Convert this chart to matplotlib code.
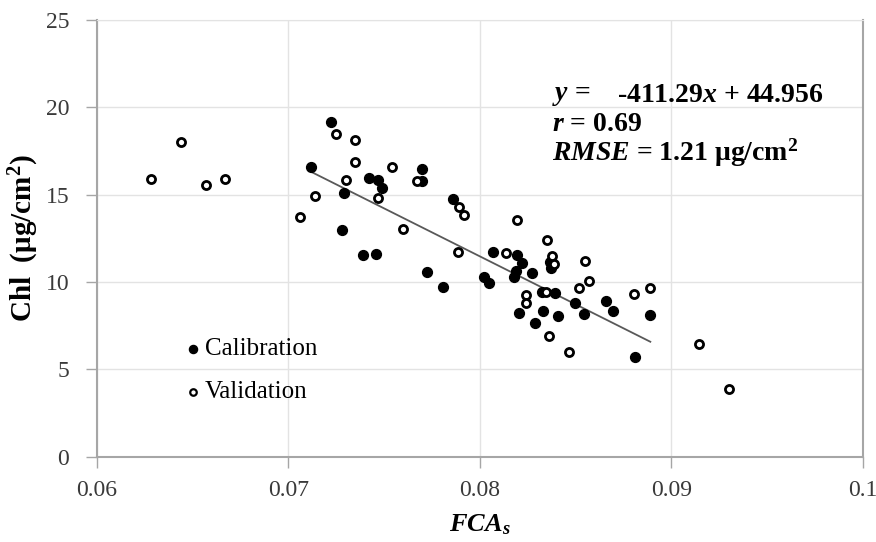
import numpy as np
import matplotlib
matplotlib.use('Agg')
import matplotlib.pyplot as plt

plt.rcParams['font.family'] = ['Liberation Serif', 'DejaVu Serif']
plt.rcParams['mathtext.fontset'] = 'custom'
plt.rcParams['mathtext.rm'] = 'Liberation Serif'
plt.rcParams['mathtext.it'] = 'Liberation Serif:italic'
plt.rcParams['mathtext.bf'] = 'Liberation Serif:bold'
plt.rcParams['mathtext.bfit'] = 'Liberation Serif:bold:italic'

# calibration (filled) points
cal_x = [0.0722, 0.0712, 0.0729, 0.0728, 0.0742, 0.07466, 0.07486, 0.07695, 0.0770,
         0.07857, 0.07389, 0.07458, 0.0807, 0.07726, 0.07808, 0.08021, 0.08047, 0.08196,
         0.0822, 0.08188, 0.08178, 0.0827, 0.08366, 0.0837, 0.08322, 0.0839, 0.08497,
         0.08658, 0.08695, 0.08886, 0.08205, 0.08327, 0.08407, 0.08543, 0.08289, 0.08811]
cal_y = [19.14, 16.6, 15.11, 13.0, 15.95, 15.82, 15.38, 16.45, 15.76,
         14.75, 11.56, 11.62, 11.72, 10.57, 9.71, 10.30, 9.94, 11.53,
         11.07, 10.65, 10.30, 10.51, 11.16, 10.82, 9.43, 9.37, 8.80,
         8.90, 8.32, 8.11, 8.24, 8.32, 8.05, 8.19, 7.67, 5.71]

# validation (open) points
val_x = [0.0644, 0.0628, 0.0657, 0.0667, 0.0725, 0.07346, 0.0735, 0.07542, 0.0730,
         0.0714, 0.0747, 0.0767, 0.0706, 0.07598, 0.07892, 0.07916, 0.07887, 0.08134,
         0.08196, 0.0835, 0.08377, 0.08388, 0.08548, 0.0857, 0.08517, 0.08345, 0.08804,
         0.08886, 0.0824, 0.0824, 0.08363, 0.08466, 0.09142, 0.09302]
val_y = [18.01, 15.9, 15.53, 15.9, 18.45, 18.15, 16.87, 16.6, 15.84,
         14.9, 14.83, 15.76, 13.7, 13.05, 14.31, 13.82, 11.70, 11.66,
         13.55, 12.42, 11.51, 11.01, 11.22, 10.03, 9.66, 9.43, 9.31,
         9.68, 9.24, 8.80, 6.91, 5.98, 6.47, 3.86]

# trend line as drawn
trend_x = [0.0712, 0.0889]
trend_y = [16.3, 6.58]

fig = plt.figure(figsize=(8.76, 5.42), dpi=100)
ax = fig.add_axes([0.1107, 0.1574, 0.8743, 0.8057])

ax.plot(trend_x, trend_y, color='#595959', lw=1.3, zorder=2)
ax.scatter(cal_x, cal_y, s=50, c='black', zorder=3)
ax.scatter(val_x, val_y, s=34, facecolors='white', edgecolors='black', linewidths=2, zorder=3)

ax.set_xlim(0.06, 0.1)
ax.set_ylim(0, 25)
ax.set_xticks([0.06, 0.07, 0.08, 0.09, 0.1])
ax.set_xticklabels(['0.06', '0.07', '0.08', '0.09', '0.1'])
ax.set_yticks([0, 5, 10, 15, 20, 25])
ax.grid(True, color='#e3e3e3', lw=1)
ax.set_axisbelow(True)
ax.tick_params(direction='out', length=8, width=1, color='#a6a6a6', labelsize=17,
               labelcolor='#3a3a3a')
ax.tick_params(axis='x', pad=9)
ax.tick_params(axis='y', pad=12)
for s in ['left', 'bottom', 'right']:
    ax.spines[s].set_color('#a6a6a6')
    ax.spines[s].set_linewidth(1.5)
ax.spines['top'].set_color('#e3e3e3')

ax.set_ylabel(r'Chl  (μg/cm$^\mathbf{2}$)', fontsize=21, fontweight='bold', labelpad=3)
ax.set_xlabel(r'$\mathbfit{FCA_s}$', fontsize=19, labelpad=8)

# legend drawn by hand
ax.scatter([0.1253], [0.247], s=34, c='black', transform=ax.transAxes, clip_on=False)
ax.text(0.141, 0.247, 'Calibration', transform=ax.transAxes, fontsize=18, va='center')
ax.scatter([0.1253], [0.148], s=22, facecolors='white', edgecolors='black', linewidths=1.6,
           transform=ax.transAxes, clip_on=False)
ax.text(0.141, 0.148, 'Validation', transform=ax.transAxes, fontsize=18, va='center')

# equation block
ax.text(0.08376, 20.7, r'$\mathbfit{y}$ =', fontsize=20, fontweight='bold', va='center')
ax.text(0.08715, 20.7, r'-411.29$\mathbfit{x}$ + 44.956', fontsize=20,
        fontweight='bold', va='center')
ax.text(0.08376, 19.0, r'$\mathbfit{r}$ = 0.69', fontsize=20, fontweight='bold', va='center')
ax.text(0.08376, 17.4, r'$\mathbfit{RMSE}$ = 1.21 μg/cm$^\mathbf{2}$', fontsize=20,
        fontweight='bold', va='center')

fig.savefig('out.png', dpi=100)
